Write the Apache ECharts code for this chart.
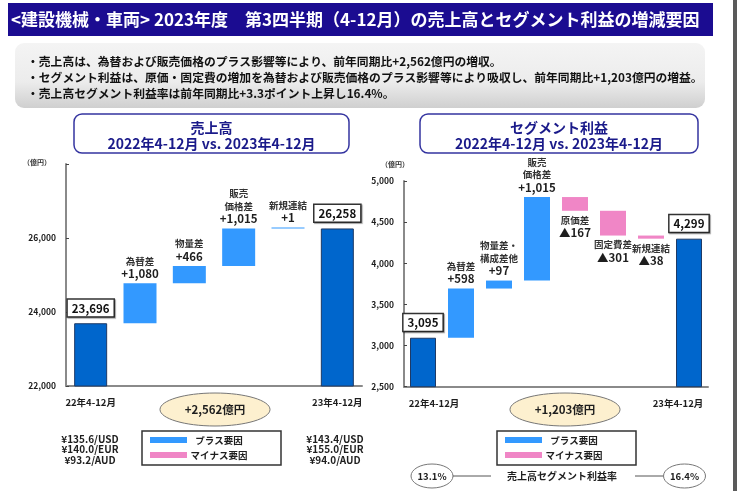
<!DOCTYPE html>
<html>
<head>
<meta charset="utf-8">
<script src="https://cdn.jsdelivr.net/npm/echarts@6/dist/echarts.min.js"></script>
<style>
  html, body { margin: 0; padding: 0; background: #fff; }
  #chart { width: 737px; height: 491px; }
</style>
</head>
<body>
<div id="chart"></div>
<script>
// 売上高
var salesCats = ['22年4-12月', '為替差', '物量差', '販売\n価格差', '新規連結', '23年4-12月'];
var salesStart = 23696;
var salesSteps = [1080, 466, 1015, 1];
var salesEnd = 26258;
var salesAxis = [22000, 28000, 2000];

// セグメント利益
var profitCats = ['22年4-12月', '為替差', '物量差・\n構成差他', '販売\n価格差', '原価差', '固定費差', '新規連結', '23年4-12月'];
var profitStart = 3095;
var profitSteps = [598, 97, 1015, -167, -301, -38];
var profitEnd = 4299;
var profitAxis = [2500, 5000, 500];

var fx2022 = ['¥135.6/USD', '¥140.0/EUR', '¥93.2/AUD'];
var fx2023 = ['¥143.4/USD', '¥155.0/EUR', '¥94.0/AUD'];
var margin2022 = '13.1%';
var margin2023 = '16.4%';

var FONT = '"Noto Sans CJK JP", "Noto Sans", sans-serif';
var dark = '#0066cc', plus = '#3399ff', minus = '#f086c6', ink = '#1e1e1e';

function fmt(v) { return v.toLocaleString('en-US'); }

// stacked waterfall: invisible base + visible step
function waterfall(start, steps, end) {
  var base = [0], delta = [start], level = start;
  steps.forEach(function (s) {
    var next = level + s;
    base.push(Math.min(level, next));
    delta.push(Math.abs(s));
    level = next;
  });
  base.push(0);
  delta.push(end);
  return { base: base, delta: delta };
}

var boxLabel = {
  show: true, position: 'top', distance: 7,
  fontFamily: FONT, fontSize: 11.5, fontWeight: 'bold', color: '#111',
  backgroundColor: '#fff', borderColor: '#333', borderWidth: 1.5,
  padding: [3, 4, 2, 4],
  shadowColor: 'rgba(0,0,0,0.35)', shadowOffsetX: 1, shadowOffsetY: 1, shadowBlur: 1
};

function stepItems(cats, start, steps, end) {
  var w = waterfall(start, steps, end);
  var items = w.delta.map(function (v, i) {
    if (i === 0 || i === w.delta.length - 1) {
      return {
        value: v,
        itemStyle: { color: dark, borderColor: '#1e3a66', borderWidth: 1 },
        label: Object.assign({}, boxLabel, { formatter: fmt(v) })
      };
    }
    var s = steps[i - 1];
    var txt = cats[i].split('\n').map(function (t) { return '{n|' + t + '}'; }).join('\n') +
      '\n{v|' + (s >= 0 ? '+' : '▲') + fmt(Math.abs(s)) + '}';
    return {
      value: v,
      itemStyle: { color: s >= 0 ? plus : minus },
      label: {
        show: true, position: s >= 0 ? 'top' : 'bottom', distance: 3,
        formatter: txt, lineHeight: 12.5,
        rich: {
          n: { fontFamily: FONT, fontSize: 9.5, fontWeight: 'bold', color: '#333', lineHeight: 12.5 },
          v: { fontFamily: FONT, fontSize: 11.5, fontWeight: 'bold', color: ink, lineHeight: 13 }
        }
      }
    };
  });
  return { base: w.base, items: items };
}

var sales = stepItems(salesCats, salesStart, salesSteps, salesEnd);
var profit = stepItems(profitCats, profitStart, profitSteps, profitEnd);

function xAxisFor(idx, cats, shift) {
  var last = cats.length - 1;
  return {
    type: 'category', gridIndex: idx, data: cats,
    axisLine: { lineStyle: { color: '#8a8a8a', width: 2 } },
    axisTick: { show: false },
    axisLabel: {
      interval: function (i) { return i === 0 || i === last; },
      margin: 12,
      formatter: function (v, i) { return i === 0 ? '{a|' + v + '}' : '{b|' + v + '}'; },
      rich: {
        a: { fontFamily: FONT, fontSize: 9.5, fontWeight: 'bold', color: ink, padding: [0, 0, 0, shift[0]] },
        b: { fontFamily: FONT, fontSize: 9.5, fontWeight: 'bold', color: ink, padding: [0, shift[1], 0, 0] }
      }
    }
  };
}

function yAxisFor(idx, ax) {
  return {
    type: 'value', gridIndex: idx, min: ax[0], max: ax[1], interval: ax[2],
    axisLine: { show: true, lineStyle: { color: '#8a8a8a', width: 2 } },
    axisTick: { show: true, inside: true, length: 3, lineStyle: { color: '#444' } },
    splitLine: { show: false },
    axisLabel: {
      margin: 10, fontFamily: FONT, fontSize: 8.5, fontWeight: 'bold', color: ink,
      formatter: function (v) { return (idx === 0 && v === ax[1]) ? '' : fmt(v); }
    }
  };
}

function txt(x, y, s, size, opts) {
  return Object.assign({
    type: 'text', x: x, y: y,
    style: Object.assign({
      text: s, fontFamily: FONT, fontSize: size, fontWeight: 'bold', fill: ink,
      textAlign: 'center', textVerticalAlign: 'middle'
    }, opts || {})
  });
}

function legendBox(x) {
  return [
    { type: 'rect', shape: { x: x, y: 431, width: 139, height: 34 }, style: { fill: '#fff', stroke: '#333', lineWidth: 1.5 } },
    { type: 'rect', shape: { x: x + 8, y: 437, width: 37, height: 6 }, style: { fill: plus } },
    { type: 'rect', shape: { x: x + 8, y: 452, width: 37, height: 6 }, style: { fill: minus } },
    txt(x + 77, 440, 'プラス要因', 9.5),
    txt(x + 77, 455.5, 'マイナス要因', 9.5)
  ];
}

function ellipse(cx, cy, rx, ry, s, size, fill) {
  return {
    type: 'ellipse', shape: { cx: cx, cy: cy, rx: rx, ry: ry },
    style: { fill: fill, stroke: '#777', lineWidth: 1 },
    textContent: { style: { text: s, fontFamily: FONT, fontSize: size, fontWeight: 'bold', fill: ink } },
    textConfig: { position: 'inside' }
  };
}

var graphics = [
  { type: 'rect', shape: { x: 8, y: 3, width: 705, height: 33 }, style: { fill: '#1b0c91' } },
  txt(11, 19.5, '<建設機械・車両> 2023年度　第3四半期（4-12月）の売上高とセグメント利益の増減要因', 17, { fill: '#fff', textAlign: 'left' }),
  {
    type: 'rect', shape: { x: 15, y: 43, width: 690, height: 65, r: 9 },
    style: {
      fill: new echarts.graphic.LinearGradient(0, 0, 0, 1, [
        { offset: 0, color: '#f4f4f4' }, { offset: 0.6, color: '#ececec' }, { offset: 1, color: '#cfcfcf' }
      ])
    }
  },
  txt(27, 62, '・売上高は、為替および販売価格のプラス影響等により、前年同期比+2,562億円の増収。', 11.8, { textAlign: 'left', fill: '#111' }),
  txt(27, 78, '・セグメント利益は、原価・固定費の増加を為替および販売価格のプラス影響等により吸収し、前年同期比+1,203億円の増益。', 11.8, { textAlign: 'left', fill: '#111' }),
  txt(27, 94, '・売上高セグメント利益率は前年同期比+3.3ポイント上昇し16.4%。', 11.8, { textAlign: 'left', fill: '#111' }),

  { type: 'rect', shape: { x: 74, y: 114, width: 275, height: 39, r: 8 }, style: { fill: '#fff', stroke: '#3434a0', lineWidth: 1.5 } },
  txt(211.5, 128, '売上高', 14, { fill: '#1a1a8a' }),
  txt(211.5, 143.5, '2022年4-12月 vs. 2023年4-12月', 14, { fill: '#1a1a8a' }),
  { type: 'rect', shape: { x: 420, y: 114, width: 278, height: 39, r: 8 }, style: { fill: '#fff', stroke: '#3434a0', lineWidth: 1.5 } },
  txt(559, 128, 'セグメント利益', 14, { fill: '#1a1a8a' }),
  txt(559, 143.5, '2022年4-12月 vs. 2023年4-12月', 14, { fill: '#1a1a8a' }),

  txt(37, 162, '（億円）', 7, { fill: '#333' }),
  txt(395, 164, '（億円）', 7, { fill: '#333' }),

  ellipse(215, 409.5, 55, 16.5, '+2,562億円', 11.5, '#fdf0cf'),
  ellipse(565, 409.5, 55, 16.5, '+1,203億円', 11.5, '#fdf0cf'),

  txt(90, 439.5, fx2022[0], 10), txt(90, 449.7, fx2022[1], 10), txt(90, 460, fx2022[2], 10),
  txt(335, 439.5, fx2023[0], 10), txt(335, 449.7, fx2023[1], 10), txt(335, 460, fx2023[2], 10),

  ellipse(432, 476, 21, 12, margin2022, 9.5, '#fff'),
  { type: 'line', shape: { x1: 453, y1: 476, x2: 491, y2: 476 }, style: { stroke: '#555', lineWidth: 1 } },
  txt(562, 476, '売上高セグメント利益率', 10),
  { type: 'line', shape: { x1: 635, y1: 476, x2: 663, y2: 476 }, style: { stroke: '#555', lineWidth: 1 } },
  ellipse(684.5, 476, 21, 12, margin2023, 9.5, '#fff'),

  { type: 'rect', shape: { x: 733, y: 0, width: 4, height: 491 }, style: { fill: '#5a5a5a' } }
].concat(legendBox(142), legendBox(497));

var chart = echarts.init(document.getElementById('chart'), null, { renderer: 'canvas' });
chart.setOption({
  animation: false,
  backgroundColor: '#fff',
  grid: [
    { left: 66, top: 164, width: 296, height: 222 },
    { left: 404, top: 181, width: 304, height: 205.7 }
  ],
  xAxis: [xAxisFor(0, salesCats, [0, 0]), xAxisFor(1, profitCats, [22, 22])],
  yAxis: [yAxisFor(0, salesAxis), yAxisFor(1, profitAxis)],
  series: [
    { type: 'bar', xAxisIndex: 0, yAxisIndex: 0, stack: 's', barWidth: 33, silent: true,
      itemStyle: { color: 'transparent' }, data: sales.base },
    { type: 'bar', xAxisIndex: 0, yAxisIndex: 0, stack: 's', barWidth: 33, barMinHeight: 1, data: sales.items },
    { type: 'bar', xAxisIndex: 1, yAxisIndex: 1, stack: 'p', barWidth: 26, silent: true,
      itemStyle: { color: 'transparent' }, data: profit.base },
    { type: 'bar', xAxisIndex: 1, yAxisIndex: 1, stack: 'p', barWidth: 26, data: profit.items }
  ],
  graphic: graphics
});
window.addEventListener('resize', function () { chart.resize(); });
</script>
</body>
</html>
